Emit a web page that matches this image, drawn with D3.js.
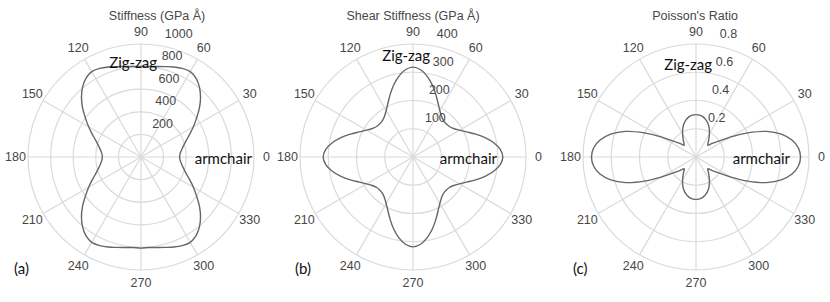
<!DOCTYPE html>
<html>
<head>
<meta charset="utf-8">
<script src="https://cdn.jsdelivr.net/npm/d3@7"></script>
<style>
	body { margin: 0; background: #fff; }
	svg text { font-family: "Liberation Sans", Arial, sans-serif; }
	.note { font-family: Lato, "Open Sans", sans-serif; fill: #111; font-size: 15px; }
</style>
</head>
<body>
<svg id="chart" width="830" height="302"></svg>
<script>
// angle (deg) of every sample, 0 = armchair direction
const angles = [0, 5, 10, 15, 20, 25, 30, 35, 40, 45, 50, 55, 60, 65, 70, 75, 80, 85,
	90, 95, 100, 105, 110, 115, 120, 125, 130, 135, 140, 145, 150, 155, 160, 165, 170, 175,
	180, 185, 190, 195, 200, 205, 210, 215, 220, 225, 230, 235, 240, 245, 250, 255, 260, 265,
	270, 275, 280, 285, 290, 295, 300, 305, 310, 315, 320, 325, 330, 335, 340, 345, 350, 355];

// (a) stiffness, GPa Å
const stiffness = [342, 348, 365, 390, 425, 475, 535, 600, 675, 745, 805, 850, 872, 865, 848, 828, 813, 804,
	801, 804, 813, 828, 848, 865, 872, 850, 805, 745, 675, 600, 535, 475, 425, 390, 365, 348,
	342, 348, 365, 390, 425, 475, 535, 600, 675, 745, 805, 850, 872, 865, 848, 828, 813, 804,
	806, 804, 813, 828, 848, 865, 872, 850, 805, 745, 675, 600, 535, 475, 425, 390, 365, 348];

// (b) shear stiffness, GPa Å
const shearStiffness = [318, 310, 290, 264, 236, 210, 190, 176, 168, 166, 168, 176, 190, 210, 236, 264, 290, 310,
	318, 310, 290, 264, 236, 210, 190, 176, 168, 166, 168, 176, 190, 210, 236, 264, 290, 310,
	318, 310, 290, 264, 236, 210, 190, 176, 168, 166, 168, 176, 190, 210, 236, 264, 290, 310,
	318, 310, 290, 264, 236, 210, 190, 176, 168, 166, 168, 176, 190, 210, 236, 264, 290, 310];

// (c) Poisson's ratio
const poissonRatio = [0.740, 0.728, 0.690, 0.625, 0.530, 0.405, 0.285, 0.195, 0.150, 0.118, 0.135, 0.160, 0.190, 0.222, 0.250, 0.272, 0.288, 0.297,
	0.300, 0.297, 0.288, 0.272, 0.250, 0.222, 0.190, 0.160, 0.135, 0.118, 0.150, 0.195, 0.285, 0.405, 0.530, 0.625, 0.690, 0.728,
	0.740, 0.728, 0.690, 0.625, 0.530, 0.405, 0.285, 0.195, 0.150, 0.118, 0.135, 0.160, 0.190, 0.222, 0.250, 0.272, 0.288, 0.297,
	0.300, 0.297, 0.288, 0.272, 0.250, 0.222, 0.190, 0.160, 0.135, 0.118, 0.150, 0.195, 0.285, 0.405, 0.530, 0.625, 0.690, 0.728];

const angleTicks = [0, 30, 60, 90, 120, 150, 180, 210, 240, 270, 300, 330];
const stiffnessTicks = [200, 400, 600, 800, 1000];
const shearTicks = [100, 200, 300, 400];
const poissonTicks = [0.2, 0.4, 0.6, 0.8];
const titles = ['Stiffness (GPa Å)', 'Shear Stiffness (GPa Å)', "Poisson's Ratio"];
const tags = ['(a)', '(b)', '(c)'];

const cy = 157;
const outerR = 113;
const labelR = 125.5;
const gridColor = '#dadada';
const textColor = '#474747';

const panels = [
	{ cx: 141, values: stiffness, ticks: stiffnessTicks, fmt: d3.format('d'), title: titles[0], titleDx: 16,
		tag: tags[0], tagX: 14, zigDx: 16, zigDy: -95, armDx: 111 },
	{ cx: 413, values: shearStiffness, ticks: shearTicks, fmt: d3.format('d'), title: titles[1], titleDx: 0,
		tag: tags[1], tagX: 295, zigDx: 17, zigDy: -102, armDx: 84 },
	{ cx: 696, values: poissonRatio, ticks: poissonTicks, fmt: d3.format('.1f'), title: titles[2], titleDx: -1,
		tag: tags[2], tagX: 573, zigDx: 16, zigDy: -93.5, armDx: 94 }
];

const svg = d3.select('#chart');
const rad = d => d * Math.PI / 180;

panels.forEach(p => {
	const r = d3.scaleLinear()
		.domain([0, d3.max(p.ticks)])
		.range([0, outerR]);
	const g = svg.append('g').attr('transform', `translate(${p.cx},${cy})`);

	// rings
	g.selectAll('circle.ring')
		.data(p.ticks)
		.join('circle')
		.attr('class', 'ring')
		.attr('r', d => r(d))
		.attr('fill', 'none')
		.attr('stroke', gridColor)
		.attr('stroke-width', 1.2);

	// spokes
	g.selectAll('line.spoke')
		.data(angleTicks)
		.join('line')
		.attr('class', 'spoke')
		.attr('x1', 0).attr('y1', 0)
		.attr('x2', d => outerR * Math.cos(rad(d)))
		.attr('y2', d => -outerR * Math.sin(rad(d)))
		.attr('stroke', gridColor)
		.attr('stroke-width', 1.2);

	// angle labels
	g.selectAll('text.ang')
		.data(angleTicks)
		.join('text')
		.attr('class', 'ang')
		.attr('x', d => labelR * Math.cos(rad(d)))
		.attr('y', d => -labelR * Math.sin(rad(d)))
		.attr('text-anchor', 'middle')
		.attr('dominant-baseline', 'central')
		.attr('font-size', 12.5)
		.attr('fill', textColor)
		.text(d => d);

	// data curve
	const pts = angles.map((a, i) => [rad(90 - a), r(p.values[i])]);
	const line = d3.lineRadial().curve(d3.curveCatmullRomClosed.alpha(0.5));
	g.append('path')
		.attr('d', line(pts))
		.attr('fill', 'none')
		.attr('stroke', '#666')
		.attr('stroke-width', 1.4);

	// radial labels
	g.selectAll('text.rad')
		.data(p.ticks)
		.join('text')
		.attr('class', 'rad')
		.attr('x', d => 8 + 0.14 * r(d))
		.attr('y', d => -r(d) - 10.5)
		.attr('dominant-baseline', 'central')
		.attr('font-size', 12.5)
		.attr('fill', textColor)
		.text(d => p.fmt(d));

	g.append('text')
		.attr('x', p.titleDx)
		.attr('y', 16 - cy)
		.attr('text-anchor', 'middle')
		.attr('dominant-baseline', 'central')
		.attr('font-size', 12.5)
		.attr('fill', textColor)
		.text(p.title);

	g.append('text')
		.attr('class', 'note')
		.attr('x', p.zigDx)
		.attr('y', p.zigDy)
		.attr('text-anchor', 'end')
		.attr('dominant-baseline', 'central')
		.text('Zig-zag');

	g.append('text')
		.attr('class', 'note')
		.attr('x', p.armDx)
		.attr('y', 1)
		.attr('text-anchor', 'end')
		.attr('dominant-baseline', 'central')
		.text('armchair');

	svg.append('text')
		.attr('class', 'note')
		.attr('x', p.tagX)
		.attr('y', 268)
		.attr('dominant-baseline', 'central')
		.text(p.tag);
});
</script>
</body>
</html>
